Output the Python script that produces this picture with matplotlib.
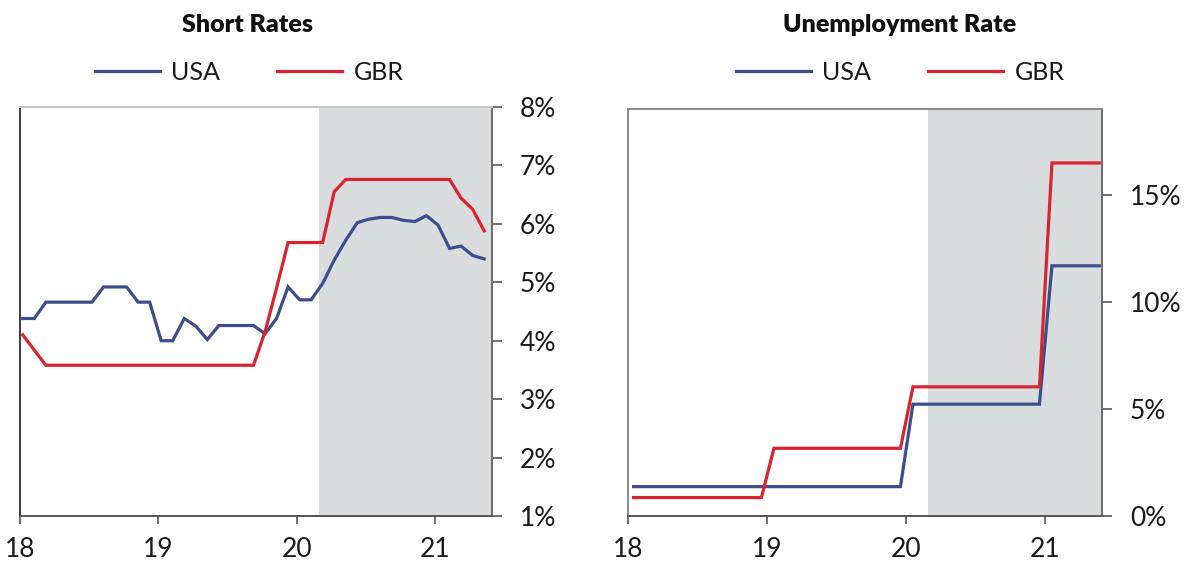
import numpy as np
import matplotlib
matplotlib.use("Agg")
import matplotlib.pyplot as plt
from matplotlib.ticker import FuncFormatter

plt.rcParams['font.family'] = ['Lato', 'DejaVu Sans']

# ---------------- data ----------------
# Short rates: monthly observations starting Jan 2018
rate_months = 18.02 + np.arange(41) / 12.0
usa_rates = [4.38, 4.38, 4.66, 4.66, 4.66, 4.66, 4.66, 4.92, 4.92, 4.92,
             4.66, 4.66, 4.00, 4.00, 4.38, 4.25, 4.02, 4.26, 4.26, 4.26,
             4.26, 4.12, 4.38, 4.92, 4.70, 4.70, 4.98, 5.38, 5.72, 6.02,
             6.08, 6.11, 6.11, 6.06, 6.04, 6.14, 5.98, 5.58, 5.62, 5.46,
             5.40]
gbr_rates = [4.10, 3.84, 3.58, 3.58, 3.58, 3.58, 3.58, 3.58, 3.58, 3.58,
             3.58, 3.58, 3.58, 3.58, 3.58, 3.58, 3.58, 3.58, 3.58, 3.58,
             3.58, 4.15, 4.90, 5.68, 5.68, 5.68, 5.68, 6.55, 6.76, 6.76,
             6.76, 6.76, 6.76, 6.76, 6.76, 6.76, 6.76, 6.76, 6.44, 6.25,
             5.88]

# Unemployment rate: annual steps
unemp_x = [18.04, 18.96, 19.05, 19.96, 20.05, 20.96, 21.05, 21.39]
usa_unemp = [1.37, 1.37, 1.37, 1.37, 5.22, 5.22, 11.68, 11.68]
gbr_unemp = [0.86, 0.86, 3.16, 3.16, 6.03, 6.03, 16.48, 16.48]

year_ticks = [18, 19, 20, 21]
year_labels = ['18', '19', '20', '21']
rate_ticks = [1, 2, 3, 4, 5, 6, 7, 8]
unemp_ticks = [0, 5, 10, 15]
shade_start = 20.16
titles = ['Short Rates', 'Unemployment Rate']
series_names = ['USA', 'GBR']

# ---------------- style ----------------
BLUE = '#3c4d8d'
RED = '#d9232f'
SHADE = '#d9dcdc'
W, H = 1187, 569

fig = plt.figure(figsize=(W / 100, H / 100), dpi=100)
fig.patch.set_facecolor('white')

def px_rect(x0, x1, ytop, ybot):
    return [x0 / W, 1 - ybot / H, (x1 - x0) / W, (ybot - ytop) / H]

ax1 = fig.add_axes(px_rect(20, 492, 107, 516))
ax2 = fig.add_axes(px_rect(628, 1102, 109, 516))

XMAX = 21.41

def style(ax, ylim, yticks, fmt, top_col, side_col, bottom_col, left_col):
    ax.set_xlim(18, XMAX)
    ax.set_ylim(*ylim)
    ax.axvspan(shade_start, XMAX, color=SHADE, zorder=0, lw=0)
    ax.yaxis.tick_right()
    ax.set_yticks(yticks)
    ax.yaxis.set_major_formatter(FuncFormatter(fmt))
    ax.set_xticks(year_ticks)
    ax.set_xticklabels(year_labels)
    ax.tick_params(axis='y', direction='out', length=7, width=1.2,
                   color='#555555', pad=13, labelsize=19, labelcolor='#1a1a1a')
    ax.tick_params(axis='x', direction='out', length=6, width=1.2,
                   color='#555555', pad=9, labelsize=19, labelcolor='#1a1a1a')
    ax.spines['top'].set_color(top_col)
    ax.spines['right'].set_color(side_col)
    ax.spines['bottom'].set_color(bottom_col)
    ax.spines['left'].set_color(left_col)
    for s in ax.spines.values():
        s.set_linewidth(1.4)

style(ax1, (1, 8), rate_ticks, lambda v, p: f'{int(v)}%',
      '#c4c4c4', '#6a6a6a', '#555555', '#3a3a3a')
style(ax2, (0, 19), unemp_ticks, lambda v, p: f'{int(v)}%',
      '#8a8a8a', '#6a6a6a', '#555555', '#8a8a8a')

lw = 2.3
ax1.plot(rate_months, usa_rates, color=BLUE, lw=lw, label=series_names[0],
         solid_joinstyle='miter', zorder=3)
ax1.plot(rate_months, gbr_rates, color=RED, lw=lw, label=series_names[1],
         solid_joinstyle='miter', zorder=3)

ax2.plot(unemp_x, usa_unemp, color=BLUE, lw=lw, label=series_names[0],
         solid_joinstyle='miter', zorder=3)
ax2.plot(unemp_x, gbr_unemp, color=RED, lw=lw, label=series_names[1],
         solid_joinstyle='miter', zorder=3)

# titles
fig.text(248 / W, 1 - 25 / H, titles[0], ha='center', va='center',
         fontsize=18, fontweight='heavy', color='#111111')
fig.text(900 / W, 1 - 25 / H, titles[1], ha='center', va='center',
         fontsize=18, fontweight='heavy', color='#111111')

# legends
for ax, cx, hl in [(ax1, 249, 2.6), (ax2, 900, 3.0)]:
    ax.legend(loc='center', bbox_to_anchor=(cx / W, 1 - 72 / H),
              bbox_transform=fig.transFigure, ncol=2, frameon=False,
              fontsize=18, handlelength=hl, handletextpad=0.45,
              columnspacing=2.3, labelcolor='#1a1a1a')

fig.savefig('out.png', dpi=100, facecolor='white')
